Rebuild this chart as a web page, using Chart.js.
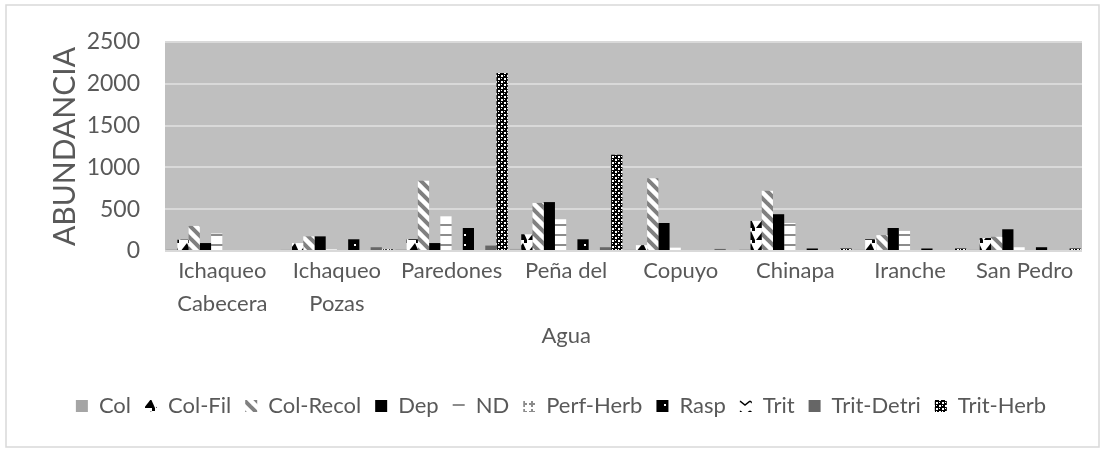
<!DOCTYPE html>
<html>
<head>
<meta charset="utf-8">
<script src="https://cdn.jsdelivr.net/npm/chart.js@4.4.0/dist/chart.umd.min.js"></script>
<style>
  html, body { margin: 0; padding: 0; background: #ffffff; }
  #grafico { display: block; }
</style>
</head>
<body>
<canvas id="grafico" width="1106" height="453"></canvas>
<script>
// Abundancia por grupo funcional en cada estación
const estaciones = [['Ichaqueo', 'Cabecera'], ['Ichaqueo', 'Pozas'], 'Paredones', ['Peña del', '', 'Agua'], 'Copuyo', 'Chinapa', 'Iranche', 'San Pedro'];
const grupos = ['Col', 'Col-Fil', 'Col-Recol', 'Dep', 'ND', 'Perf-Herb', 'Rasp', 'Trit', 'Trit-Detri', 'Trit-Herb'];

const col       = [20, 15, 20, 25, 15, 20, 15, 15];
const colFil    = [135, 95, 140, 200, 70, 360, 140, 155];
const colRecol  = [300, 175, 840, 575, 870, 720, 190, 170];
const dep       = [95, 175, 95, 585, 335, 440, 275, 260];
const nd        = [210, 20, 415, 380, 40, 335, 240, 45];
const perfHerb  = [0, 0, 0, 0, 0, 0, 0, 0];
const rasp      = [0, 140, 275, 140, 0, 30, 30, 45];
const trit      = [0, 0, 0, 0, 0, 0, 0, 0];
const tritDetri = [0, 45, 65, 45, 25, 0, 0, 0];
const tritHerb  = [0, 20, 2130, 1150, 0, 30, 30, 30];

const yTicks = [0, 500, 1000, 1500, 2000, 2500];

const canvas = document.getElementById('grafico');
const ctx = canvas.getContext('2d');

// tramas de relleno tipo Excel
function trama(size, fondo, dibujar) {
    const c = document.createElement('canvas');
    c.width = size;
    c.height = size;
    const g = c.getContext('2d');
    g.fillStyle = fondo;
    g.fillRect(0, 0, size, size);
    dibujar(g, size);
    return ctx.createPattern(c, 'repeat');
}

const tramaColFil = trama(12, '#ffffff', g => {
    g.fillStyle = '#000000';
    g.beginPath();
    g.moveTo(0, 12); g.lineTo(7, 3); g.lineTo(11, 12);
    g.closePath();
    g.fill();
    g.fillRect(8, 0, 3, 3);
});

const tramaColRecol = trama(12, '#ffffff', (g, s) => {
    g.strokeStyle = '#808080';
    g.lineWidth = 4;
    [-s, 0, s].forEach(d => {
        g.beginPath();
        g.moveTo(d - 2, -2);
        g.lineTo(d + s + 2, s + 2);
        g.stroke();
    });
});

const tramaND = trama(10, '#ffffff', g => {
    g.fillStyle = '#8c8c8c';
    g.fillRect(0, 4, 10, 2);
});

const tramaPerfHerb = trama(8, '#ffffff', g => {
    g.fillStyle = '#8c8c8c';
    g.fillRect(3, 1, 2, 6);
    g.fillRect(1, 3, 6, 2);
});

const tramaRasp = trama(10, '#000000', g => {
    g.fillStyle = '#ffffff';
    g.fillRect(4, 4, 2, 2);
});

const tramaTrit = trama(10, '#ffffff', g => {
    g.strokeStyle = '#000000';
    g.lineWidth = 1.5;
    g.beginPath();
    g.moveTo(0, 1); g.lineTo(5, 5); g.lineTo(10, 1);
    g.stroke();
});

const tramaTritHerb = trama(6, '#000000', g => {
    g.fillStyle = '#ffffff';
    g.fillRect(0, 0, 2, 2);
    g.fillRect(3, 3, 2, 2);
    g.fillRect(3, 0, 1, 1);
    g.fillRect(0, 3, 1, 1);
});

const rellenos = ['#a5a5a5', tramaColFil, tramaColRecol, '#000000', tramaND, tramaPerfHerb, tramaRasp, tramaTrit, '#666666', tramaTritHerb];
const valores = [col, colFil, colRecol, dep, nd, perfHerb, rasp, trit, tritDetri, tritHerb];

// fondo blanco, marco exterior y área de trazado gris
const fondoGrafico = {
    id: 'fondoGrafico',
    beforeDraw(chart) {
        const c = chart.ctx;
        const a = chart.chartArea;
        c.save();
        c.fillStyle = '#ffffff';
        c.fillRect(0, 0, chart.width, chart.height);
        c.strokeStyle = '#d9d9d9';
        c.lineWidth = 1.5;
        c.strokeRect(6, 5, 1093, 442);
        c.fillStyle = '#bfbfbf';
        c.fillRect(a.left, a.top, a.right - a.left, a.bottom - a.top);
        c.restore();
    }
};

const fuente = 'Lato, "Open Sans", sans-serif';

new Chart(ctx, {
    type: 'bar',
    data: {
        labels: estaciones,
        datasets: grupos.map((g, i) => ({
            label: g,
            data: valores[i],
            backgroundColor: rellenos[i],
            borderWidth: 0,
            categoryPercentage: 0.98,
            barPercentage: 1.0
        }))
    },
    options: {
        responsive: false,
        animation: false,
        layout: {
            padding: { left: 40, right: 24, top: 42, bottom: 26 }
        },
        plugins: {
            legend: {
                position: 'bottom',
                labels: {
                    boxWidth: 12,
                    boxHeight: 12,
                    padding: 14,
                    color: '#595959',
                    font: { family: fuente, size: 22 }
                }
            },
            tooltip: { enabled: false }
        },
        scales: {
            x: {
                grid: { display: false, drawTicks: false },
                border: { display: false },
                ticks: {
                    color: '#595959',
                    padding: 4,
                    maxRotation: 0,
                    autoSkip: false,
                    font: { family: fuente, size: 22, lineHeight: 1.48 }
                },
                afterFit(scale) { scale.height = 130; }
            },
            y: {
                min: 0,
                max: 2500,
                afterBuildTicks(scale) {
                    scale.ticks = yTicks.map(v => ({ value: v }));
                },
                grid: { color: '#d9d9d9', lineWidth: 2, drawTicks: false },
                border: { display: false },
                ticks: {
                    color: '#595959',
                    padding: 25,
                    font: { family: fuente, size: 23 },
                    callback: v => String(v)
                },
                title: {
                    display: true,
                    text: 'ABUNDANCIA',
                    color: '#595959',
                    padding: { top: 7, bottom: 0 },
                    font: { family: fuente, size: 30 }
                },
                afterFit(scale) { scale.width = 125; }
            }
        }
    },
    plugins: [fondoGrafico]
});
</script>
</body>
</html>
